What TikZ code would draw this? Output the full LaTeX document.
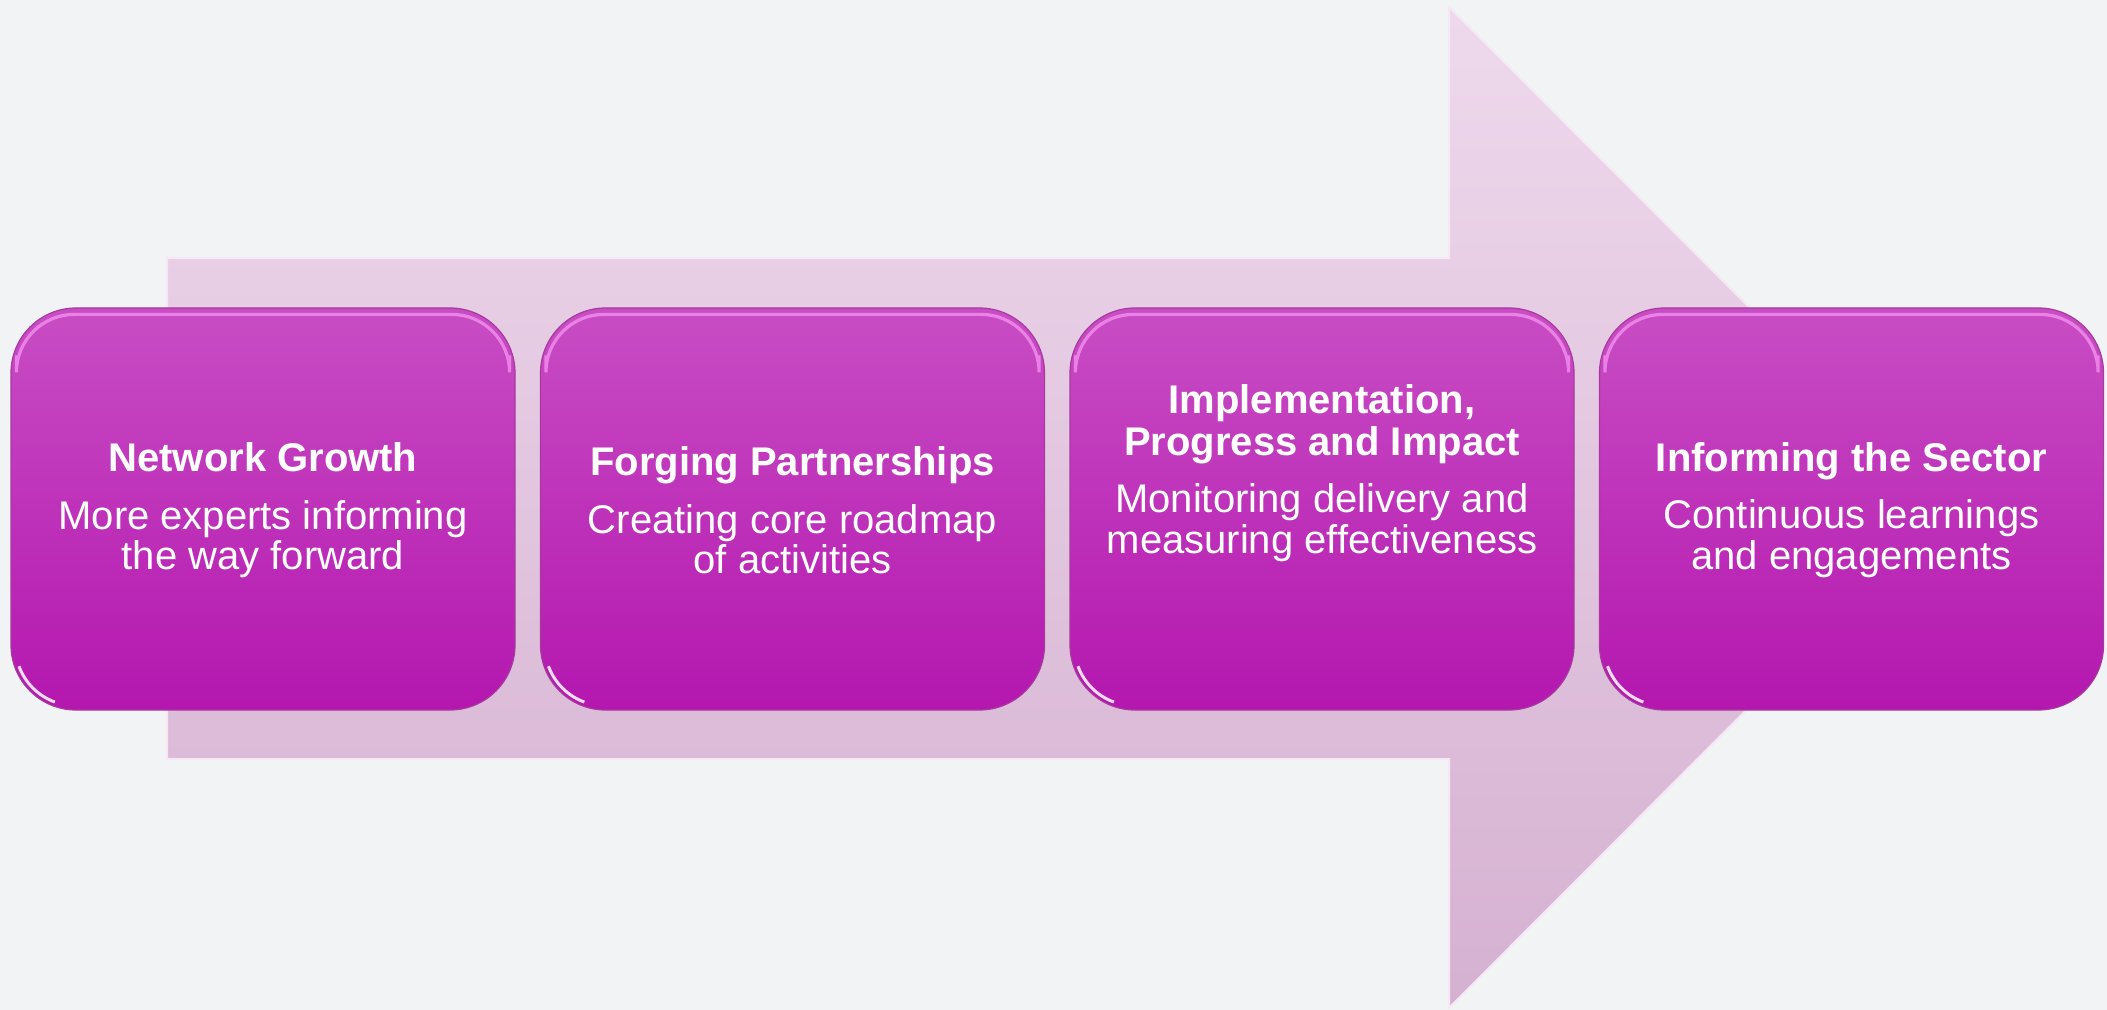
\documentclass[tikz,border=0pt]{standalone}
\usepackage{fontspec}
\setmainfont{Liberation Sans}
\definecolor{bg}{HTML}{F2F3F5}
\definecolor{arrowtop}{HTML}{EED9EC}
\definecolor{arrowbot}{HTML}{D5B1D1}
\definecolor{arrowedge}{HTML}{F6E8F5}
\definecolor{boxtop}{HTML}{C84DC4}
\definecolor{boxbot}{HTML}{B417AF}
\definecolor{boxedge}{HTML}{A63A9E}
\definecolor{glow}{HTML}{FA9AF6}
\tikzset{
    stage/.style={rounded corners=32.5pt, minimum width=252pt, minimum height=201pt,
        inner sep=0pt, top color=boxtop, bottom color=boxbot, draw=boxedge, line width=0.6pt},
    caption/.style={text=white, align=center, inner sep=0pt,
        font=\fontsize{20}{20.3}\selectfont}
}
\begin{document}
\begin{tikzpicture}[x=0.5pt,y=-0.5pt]
    \useasboundingbox[fill=bg] (0,0) rectangle (2107,1010);

    % big arrow behind the stages
    \draw[top color=arrowtop, bottom color=arrowbot, draw=arrowedge, line width=1pt]
        (167,258) -- (1449,258) -- (1449,7) -- (1949,507)
        -- (1449,1008) -- (1449,759) -- (167,759) -- cycle;

    \node[stage] (box_1) at (263,509) {};
    \node[stage] (box_2) at (792.5,509) {};
    \node[stage] (box_3) at (1322,509) {};
    \node[stage] (box_4) at (1851.5,509) {};

    % glossy edges
    \foreach \b in {box_1,box_2,box_3,box_4} {
        \draw[glow, opacity=0.7, line width=1.6pt, rounded corners=29pt]
            ([shift={(3pt,-24pt)}]\b.north west) -- ([shift={(3pt,-3.5pt)}]\b.north west)
            -- ([shift={(-3pt,-3.5pt)}]\b.north east) -- ([shift={(-3pt,-24pt)}]\b.north east);
        \draw[white, opacity=0.85, line width=1.5pt]
            ([shift={(4.3pt,22.2pt)}]\b.south west) arc[start angle=200, end angle=250, radius=30pt];
    }

    \node[caption] (text_1) at (263,510.5) {\textbf{Network Growth}\\[8.5pt]
        More experts informing\\the way forward};
    \node[caption] (text_2) at (792.5,510.5) {\textbf{Forging Partnerships}\\[8.5pt]
        Creating core roadmap\\of activities};
    \node[caption] (text_3) at (1322,473) {\textbf{Implementation,}\\[0.5pt]
        \textbf{Progress and Impact}\\[8.5pt]
        Monitoring delivery and\\measuring effectiveness};
    \node[caption] (text_4) at (1851.5,510) {\textbf{Informing the Sector}\\[8.5pt]
        Continuous learnings\\and engagements};
\end{tikzpicture}
\end{document}
